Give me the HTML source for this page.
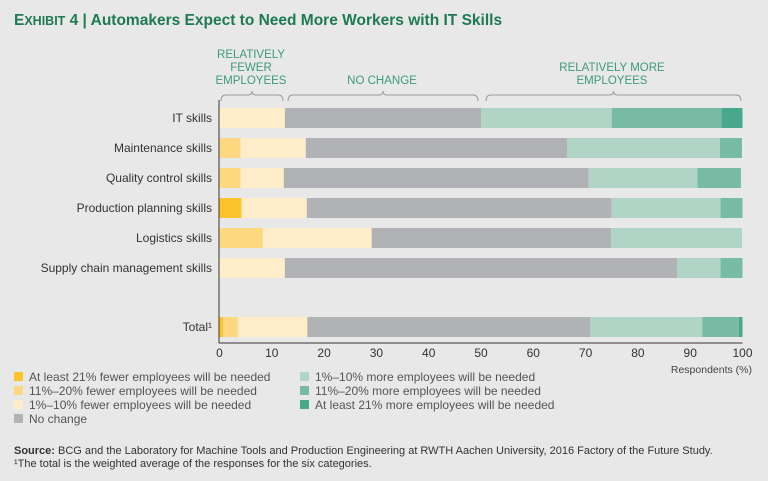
<!DOCTYPE html>
<html><head><meta charset="utf-8"><style>
body{margin:0;background:#e8e8e9;font-family:"Liberation Sans",sans-serif;}
svg{display:block}
</style></head><body>
<svg width="768" height="481" viewBox="0 0 768 481" xmlns="http://www.w3.org/2000/svg">
<rect width="768" height="481" fill="#e8e8e9"/>
<text x="14" y="25" font-size="15.5" font-weight="bold" fill="#1d7a52"><tspan font-size="15.5">E</tspan><tspan font-size="12.5">XHIBIT</tspan> 4 | Automakers Expect to Need More Workers with IT Skills</text>
<g id="groups" font-size="11.5" fill="#3d9a7a" text-anchor="middle">
<text x="251" y="58">RELATIVELY</text><text x="251" y="71">FEWER</text><text x="251" y="84">EMPLOYEES</text>
<text x="382" y="84">NO CHANGE</text>
<text x="612" y="71">RELATIVELY MORE</text><text x="612" y="84">EMPLOYEES</text>
</g>
<g id="braces" fill="none" stroke="#9a9a9a" stroke-width="1"></g>
<g id="bars"></g>
<g id="axis"></g>
<g id="legend" font-size="12" fill="#555"></g>
<text x="14" y="454" font-size="11" fill="#333"><tspan font-weight="bold">Source:</tspan> BCG and the Laboratory for Machine Tools and Production Engineering at RWTH Aachen University, 2016 Factory of the Future Study.</text>
<text x="14" y="467" font-size="11" fill="#333">¹The total is the weighted average of the responses for the six categories.</text>
</svg>
<script>
const categories=["IT skills","Maintenance skills","Quality control skills","Production planning skills","Logistics skills","Supply chain management skills","Total¹"];
const fewer21=[0,0,0,4.2,0,0,0.7];
const fewer11=[0,4,4,0,8.3,0,2.8];
const fewer1=[12.5,12.5,8.3,12.5,20.8,12.5,13.3];
const noChange=[37.5,50,58.3,58.3,45.8,75,54.1];
const more1=[25,29.2,20.8,20.8,25,8.3,21.4];
const more11=[21,4.2,8.3,4.2,0,4.2,7];
const more21=[4,0,0,0,0,0,0.7];
const ticks=[0,10,20,30,40,50,60,70,80,90,100];
const seriesNames=["At least 21% fewer employees will be needed","11%–20% fewer employees will be needed","1%–10% fewer employees will be needed","No change","1%–10% more employees will be needed","11%–20% more employees will be needed","At least 21% more employees will be needed"];
const series=[fewer21,fewer11,fewer1,noChange,more1,more11,more21];
const colors=["#fcc42a","#fdd880","#feedc8","#b1b2b5","#b0d5c6","#78bba5","#48a88c"];
const NS="http://www.w3.org/2000/svg";
const x0=219.5,x1=742.5;
const xs=v=>x0+(x1-x0)*v/100;
const rowY=[108,138,168,198,228,258,317];
const ys=i=>rowY[i];
const bh=20;
function mk(t,a,p){const e=document.createElementNS(NS,t);for(const k in a)e.setAttribute(k,a[k]);p.appendChild(e);return e;}
const bars=document.getElementById('bars');


categories.forEach((c,i)=>{
  let acc=0;
  series.forEach((s,j)=>{
    const v=s[i];
    if(v>0){
      const r=mk('rect',{x:xs(acc),y:ys(i),width:xs(acc+v)-xs(acc),height:bh,fill:colors[j]},bars);
      
      
    }
    acc+=v;
  });
  const t=mk('text',{x:212,y:ys(i)+14,'font-size':12,fill:'#333','text-anchor':'end'},bars);
  t.textContent=c;
  
  
});
const ax=document.getElementById('axis');


mk('line',{x1:x0-0.5,y1:100,x2:x0-0.5,y2:343,stroke:'#333','stroke-width':1},ax);
mk('line',{x1:x0-0.5,y1:343,x2:x1,y2:343,stroke:'#333','stroke-width':1},ax);
ticks.forEach(v=>{
  const t=mk('text',{x:xs(v),y:357,'font-size':12,fill:'#333','text-anchor':'middle'},ax);
  t.textContent=v;
  
  
});
const at=mk('text',{x:752,y:373,'font-size':10.5,fill:'#444','text-anchor':'end'},ax);
at.textContent='Respondents (%)';


const br=document.getElementById('braces');
[[221,283],[288,478],[486,741]].forEach(([a,b])=>{
  const m=(a+b)/2;
  mk('path',{d:`M${a} 101 Q${a} 95 ${a+5} 95 L${m-4} 95 Q${m} 95 ${m} 91 Q${m} 95 ${m+4} 95 L${b-5} 95 Q${b} 95 ${b} 101`},br);
});
const lg=document.getElementById('legend');


const lpos=[[14,381],[14,395],[14,409],[14,423],[300,381],[300,395],[300,409]];
const order=[0,1,2,3,4,5,6];
order.forEach((j,k)=>{
  const [lx,ly]=lpos[k];
  const g=mk('g',{},lg);
  
  
  mk('rect',{x:lx,y:ly-9,width:9,height:9,fill:colors[j]},g);
  const t=mk('text',{x:lx+15,y:ly,'font-size':12,fill:'#555'},g);
  t.textContent=seriesNames[j];
});
</script>
</body></html>
